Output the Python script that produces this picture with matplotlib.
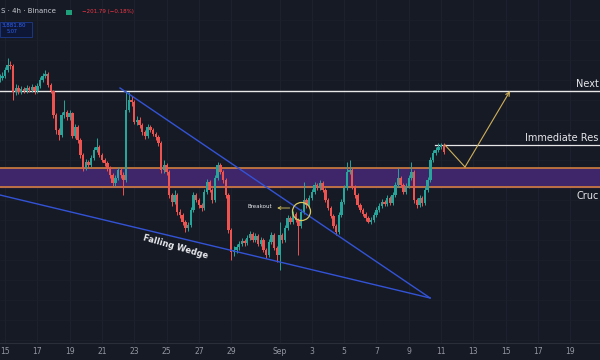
import matplotlib.pyplot as plt
from matplotlib.patches import Rectangle
import numpy as np

# BTC 4h candles, from Aug 14 16:00 to Sep 11 (x = days since Aug 15)
first_open = 118000
closes = [118100, 118200, 118500, 118750, 118700, 117400, 117600, 117400, 117550, 117450,
          117600, 117500, 117650, 117450, 117700, 118000, 118200, 118300, 117750, 117450,
          116250, 115500, 115250, 116250, 116400, 116150, 116350, 115200, 115650, 115000,
          114250, 113600, 113900, 113750, 114100, 114500, 114650, 114250, 114000, 113850,
          113600, 113250, 112850, 113100, 113500, 113250, 113000, 116500, 117000, 116900,
          115900, 116000, 115750, 115400, 115200, 115650, 115500, 115300, 115150, 114850,
          113500, 113750, 113400, 112250, 111900, 112250, 111400, 111250, 110900, 110600,
          110750, 111500, 112250, 112000, 111750, 111600, 112400, 112900, 112500, 112000,
          113100, 113750, 113400, 113000, 112250, 110500, 109400, 109500, 109650, 109800,
          109950, 109850, 110100, 110300, 110000, 110200, 109800, 110000, 109500, 109250,
          109900, 110250, 109600, 109250, 110250, 110000, 110600, 111100, 110900, 111300,
          111000, 110700, 111400, 112000, 111750, 112100, 112400, 112750, 112600, 112850,
          112500, 112000, 111600, 111200, 110700, 110400, 111250, 111900, 112600, 113400,
          113500, 112650, 112250, 111750, 111500, 111300, 111100, 110900, 111000, 111250,
          111500, 111700, 111900, 111800, 112100, 111850, 112250, 112750, 113100, 112750,
          112400, 112700, 113100, 113400, 112000, 111750, 112100, 111850, 112500, 113000,
          114000, 114350, 114500, 114650, 114750, 114400]
highs = [118300, 118400, 118650, 119100, 118950, 118800, 117800, 117750, 117700, 117650,
         117750, 117700, 117800, 117750, 117850, 118150, 118350, 118500, 118400, 117850,
         117500, 116350, 115600, 116400, 117000, 116500, 116500, 116400, 115800, 115750,
         115100, 114350, 114050, 114000, 114250, 114650, 115100, 114750, 114350, 114100,
         113950, 113700, 113350, 113250, 113650, 113600, 113400, 117450, 117400, 117200,
         117000, 116200, 116150, 115850, 115500, 115800, 115750, 115600, 115400, 115250,
         114950, 114000, 113850, 113500, 112350, 112500, 112350, 111550, 111350, 111000,
         110900, 111650, 112400, 112350, 112100, 111850, 112550, 113050, 113000, 112600,
         113250, 113900, 113850, 113500, 113100, 112350, 110600, 109700, 109800, 109950,
         110100, 110050, 110250, 110450, 110400, 110350, 110300, 110150, 110100, 109600,
         110050, 110400, 110350, 109700, 110900, 110350, 110750, 111250, 111200, 111450,
         111400, 111100, 111550, 112900, 112100, 112250, 112550, 112900, 112850, 113000,
         112950, 112600, 112100, 111700, 111300, 110800, 111400, 112050, 112750, 113900,
         114000, 113600, 112750, 112350, 111850, 111600, 111400, 111200, 111150, 111400,
         111650, 111850, 112050, 112000, 112250, 112200, 112400, 112900, 113600, 113200,
         112850, 112850, 113250, 113900, 113500, 112100, 112250, 112200, 112650, 113150,
         114150, 114500, 114650, 114850, 114850, 114850]
lows = [117900, 118000, 118100, 118400, 118550, 117000, 117250, 117300, 117300, 117350,
        117350, 117400, 117400, 117300, 117350, 117600, 117900, 118100, 117650, 117350,
        116100, 115300, 115000, 115150, 116100, 116000, 116000, 115100, 115100, 114850,
        114100, 113450, 113500, 113600, 113650, 114000, 114400, 114150, 113900, 113700,
        113450, 113100, 112700, 112700, 113000, 113100, 112250, 112900, 116400, 116700,
        115800, 115750, 115600, 115250, 115050, 115100, 115400, 115200, 115000, 114700,
        113350, 113350, 113250, 112100, 111700, 111800, 111250, 111100, 110750, 110400,
        110450, 110650, 111400, 111900, 111600, 111450, 111500, 112300, 112400, 111850,
        111900, 113000, 113300, 112850, 112100, 110350, 109000, 109200, 109350, 109500,
        109700, 109700, 109750, 110000, 109900, 109900, 109700, 109700, 109400, 109100,
        109150, 109800, 109500, 108900, 108500, 109850, 109900, 110500, 110800, 110800,
        110900, 109250, 110600, 111300, 111600, 111650, 112000, 112300, 112500, 112500,
        112400, 111900, 111500, 111100, 110600, 110250, 110300, 111150, 111800, 112500,
        113300, 112550, 112100, 111650, 111400, 111200, 110950, 110850, 110800, 110900,
        111150, 111400, 111600, 111700, 111700, 111750, 111750, 112150, 112650, 112650,
        112300, 112300, 112600, 113000, 111850, 111600, 111650, 111700, 111750, 112400,
        112900, 113900, 114250, 114400, 114550, 114300]

tick_days = [0, 2, 4, 6, 8, 10, 12, 14, 17, 19, 21, 23, 25, 27, 29, 31, 33, 35]
tick_labels = ["15", "17", "19", "21", "23", "25", "27", "29", "Sep", "3", "5", "7",
               "9", "11", "13", "15", "17", "19"]

next_res = 117450
immediate_res = 114750
zone_top = 113600
zone_bottom = 112650

wedge_upper_t = [7.12, 26.32]
wedge_upper_p = [117600, 107100]
wedge_lower_t = [-0.31, 26.32]
wedge_lower_p = [112250, 107100]

path_t = [27.24, 28.48, 31.27]
path_p = [114750, 113650, 117450]

bg = "#161a25"
up_col = "#26a69a"
down_col = "#ef5350"
txt_col = "#e6e7eb"

opens = [first_open] + closes[:-1]
t = np.arange(len(closes)) / 6 - 1 / 3

fig = plt.figure(figsize=(6, 3.6), dpi=100, facecolor=bg)
ax = fig.add_axes([0, 17 / 360, 1, 343 / 360])
ax.set_facecolor(bg)
ax.set_xlim(-0.31, 36.84)
ax.set_ylim(104850, 122000)

# grid
for d in tick_days:
    ax.axvline(d, color="#1f2330", lw=0.6, zorder=0)
for p in range(105000, 122000, 1000):
    ax.axhline(p, color="#1c202b", lw=0.5, zorder=0)

# zone and levels
ax.axhspan(zone_bottom, zone_top, color="#3f2569", zorder=1)
ax.axhline(zone_top, color="#e0883a", lw=1.1, zorder=2)
ax.axhline(zone_bottom, color="#e0883a", lw=1.1, zorder=2)
ax.axhline(next_res, color="#e8e8e8", lw=1.0, zorder=2)
ax.plot([26.6, 37], [immediate_res, immediate_res], color="#e8e8e8", lw=0.9, zorder=2)

# candles
for i in range(len(closes)):
    col = up_col if closes[i] >= opens[i] else down_col
    ax.vlines(t[i], lows[i], highs[i], color=col, lw=0.7, zorder=3)
    lo = min(opens[i], closes[i])
    h = max(abs(closes[i] - opens[i]), 40)
    ax.bar(t[i], h, bottom=lo, width=0.15, color=col, linewidth=0, zorder=4)

# wedge
ax.plot(wedge_upper_t, wedge_upper_p, color="#3353d6", lw=1.0, zorder=5)
ax.plot(wedge_lower_t, wedge_lower_p, color="#3353d6", lw=1.0, zorder=5)
ax.text(10.53, 109650, "Falling Wedge", color=txt_col, fontsize=6, fontweight="bold",
        rotation=-16, ha="center", va="center", zorder=6)

# breakout marker
ax.plot(18.33, 111450, "o", ms=13, mfc="none", mec="#d8c860", mew=0.9, zorder=6)
ax.annotate("", xy=(16.68, 111600), xytext=(17.8, 111600),
            arrowprops=dict(arrowstyle="->", color="#d8c860", lw=0.6, mutation_scale=5), zorder=6)
ax.text(16.55, 111650, "Breakout", color=txt_col, fontsize=4, ha="right", va="center", zorder=6)

# projected path
ax.plot(path_t[:2], path_p[:2], color="#cfb05a", lw=0.8, zorder=6)
ax.annotate("", xy=(path_t[2], path_p[2]), xytext=(path_t[1], path_p[1]),
            arrowprops=dict(arrowstyle="->", color="#cfb05a", lw=0.8, mutation_scale=7,
                            shrinkA=0, shrinkB=0), zorder=6)

# level labels (only the part visible inside the frame)
ax.text(0.998, next_res + 120, "Next", color=txt_col, fontsize=7, va="bottom", ha="right",
        transform=ax.get_yaxis_transform(), zorder=7)
ax.text(0.998, immediate_res + 100, "Immediate Res", color=txt_col, fontsize=7, va="bottom",
        ha="right", transform=ax.get_yaxis_transform(), zorder=7)
ax.text(0.998, zone_bottom - 220, "Cruc", color=txt_col, fontsize=7, va="top", ha="right",
        transform=ax.get_yaxis_transform(), zorder=7)

# axis styling
ax.set_xticks(tick_days)
ax.set_xticklabels(tick_labels)
ax.tick_params(axis="x", length=0, labelsize=5.5, labelcolor="#9598a1", pad=3)
ax.axvline(37, color="#1f2330", lw=0.6, zorder=0)
ax.set_yticks([])
for s in ["top", "left", "right"]:
    ax.spines[s].set_visible(False)
ax.spines["bottom"].set_color("#2a2e39")
ax.spines["bottom"].set_linewidth(0.8)

# header
fig.text(0.002, 1 - 13 / 360, "S · 4h · Binance", color="#c8cad0", fontsize=5, va="baseline")
fig.patches.append(Rectangle((66 / 600, 1 - 15 / 360), 6 / 600, 5 / 360, transform=fig.transFigure,
                             facecolor="#1f9e7a", edgecolor="none"))
fig.text(82 / 600, 1 - 13 / 360, "−201.79 (−0.18%)", color="#f23645", fontsize=4, va="baseline")
fig.patches.append(Rectangle((0, 1 - 37 / 360), 32 / 600, 15 / 360, transform=fig.transFigure,
                             facecolor="#0e1836", edgecolor="#1d3a8f", lw=0.6))
fig.text(2 / 600, 1 - 27 / 360, "3,881.80", color="#2f62ff", fontsize=4, va="baseline")
fig.text(7 / 600, 1 - 33 / 360, "5:07", color="#2f62ff", fontsize=3.5, va="baseline")

plt.savefig("out.png", dpi=100, facecolor=bg)
